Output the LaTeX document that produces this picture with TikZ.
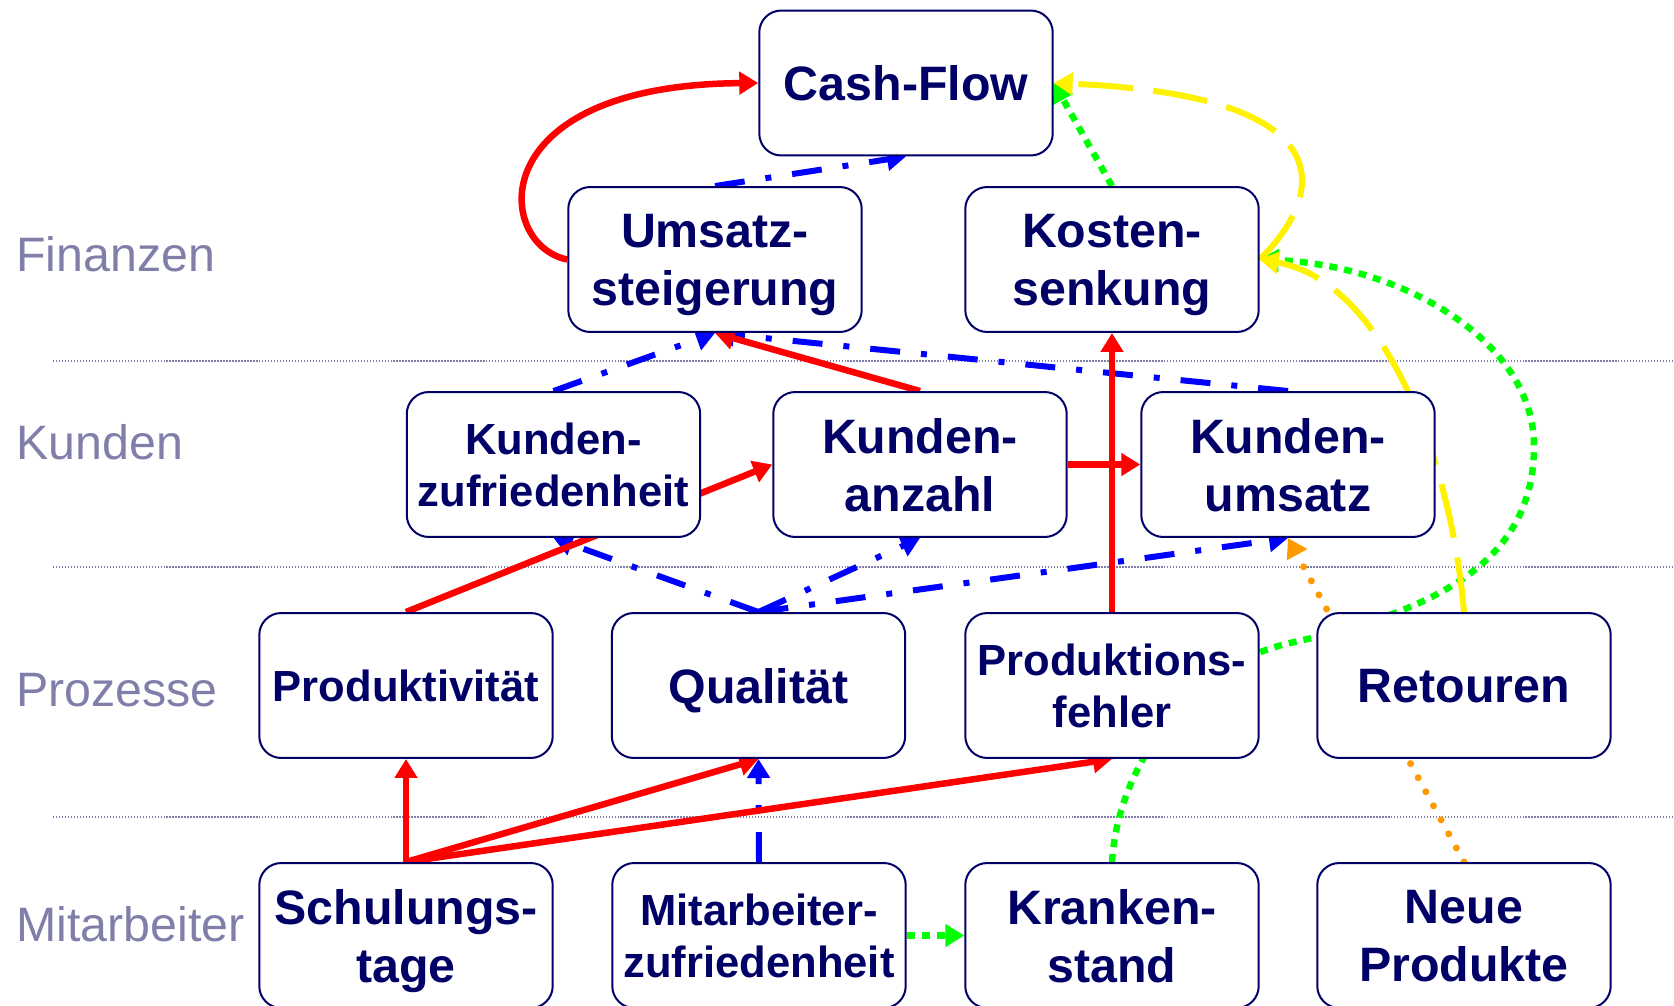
\documentclass[tikz,border=0pt]{standalone}
\usepackage{fontspec}
\setmainfont{Liberation Sans}
\usepackage{xcolor}
\usetikzlibrary{arrows.meta,backgrounds}

\definecolor{navy}{RGB}{0,0,102}
\definecolor{lavgrey}{RGB}{127,127,170}
\definecolor{orangedot}{RGB}{255,153,0}

\begin{document}
\begin{tikzpicture}[x=0.02cm,y=-0.02cm,
	box/.style={draw=navy,line width=0.04cm,fill=white,rounded corners=0.44cm,minimum width=5.87cm,minimum height=2.9cm,inner sep=0pt,align=center,text depth=0pt,text=navy,font=\fontsize{27.5pt}{33pt}\selectfont\bfseries},
	smallbox/.style={box,font=\fontsize{24.8pt}{29.5pt}\selectfont\bfseries},
	rowlabel/.style={anchor=west,inner sep=0pt,text=lavgrey,font=\fontsize{27.5pt}{33pt}\selectfont},
	sepline/.style={lavgrey,line width=0.8pt,dash pattern=on 0.8pt off 0.9pt},
	tipped/.style={-{Triangle[length=0.38cm,width=0.44cm]}},
	redarrow/.style={tipped,red,line width=0.13cm},
	bluearrow/.style={tipped,blue,line width=0.12cm,dash pattern=on 0.6cm off 0.42cm on 0.12cm off 0.42cm},
	greenarrow/.style={tipped,green,line width=0.13cm,dash pattern=on 0.16cm off 0.14cm},
	yellowarrow/.style={tipped,yellow,line width=0.12cm,dash pattern=on 1.1cm off 0.4cm},
	orangearrow/.style={tipped,orangedot,line width=0.14cm,line cap=round,dash pattern=on 0pt off 0.32cm}]
	\useasboundingbox (0,0) rectangle (1674,1005);

	\node[rowlabel] (finanzen) at (16,254) {Finanzen};
	\node[rowlabel] (kunden) at (16,442) {Kunden};
	\node[rowlabel] (prozesse) at (16,690) {Prozesse};
	\node[rowlabel] (mitarbeiter) at (16,924) {Mitarbeiter};

	\node[box] (cash) at (906,83) {Cash-Flow};
	\node[box] (umsatz) at (715,259.5) {Umsatz-\\steigerung};
	\node[box] (kosten) at (1112,259.5) {Kosten-\\senkung};

	\node[smallbox] (kzuf) at (553.5,464.5) {Kunden-\\zufriedenheit};
	\node[box] (kanz) at (920,464.5) {Kunden-\\anzahl};
	\node[box] (kums) at (1288,464.5) {Kunden-\\umsatz};

	\node[smallbox] (prod) at (406,685.5) {Produktivität};
	\node[box] (qual) at (758.5,685.5) {Qualität};
	\node[smallbox] (pfehl) at (1112,685.5) {Produktions-\\fehler};
	\node[box] (ret) at (1464,685.5) {Retouren};

	\node[box] (schul) at (406,935.5) {Schulungs-\\tage};
	\node[smallbox] (mazuf) at (759,935.5) {Mitarbeiter-\\zufriedenheit};
	\node[box] (krank) at (1112,935.5) {Kranken-\\stand};
	\node[box] (neue) at (1464,935.5) {Neue\\Produkte};

	\begin{scope}[on background layer]
		\fill[white] (0,0) rectangle (1674,1005);
		\draw[sepline] (53,361) -- (1674,361);
		\draw[sepline] (53,567) -- (1674,567);
		\draw[sepline] (53,817) -- (1674,817);

		\draw[greenarrow] (kosten.north) -- (cash.east);
		\draw[greenarrow] (mazuf.east) -- (krank.west);
		\draw[greenarrow] (krank.north) .. controls (1118,760) and (1197,663) .. (1290,643) .. controls (1440,610) and (1534,560) .. (1534,446) .. controls (1534,340) and (1400,265) .. (kosten.east);

		\draw[bluearrow] (umsatz.north) -- (cash.south);
		\draw[bluearrow] (kzuf.north) -- (umsatz.south);
		\draw[bluearrow] (kums.north) -- (umsatz.south);
		\draw[bluearrow] (qual.north) -- (kzuf.south);
		\draw[bluearrow] (qual.north) -- (kanz.south);
		\draw[bluearrow] (qual.north) -- (kums.south);
		\draw[bluearrow] (mazuf.north) -- (qual.south);

		\draw[orangearrow] (neue.north) -- (kums.south);

		\draw[yellowarrow] (ret.north) .. controls (1450,450) and (1380,280) .. (kosten.east);
		\draw[yellowarrow] (kosten.east) .. controls (1330,190) and (1340,95) .. (cash.east);

		\draw[redarrow] (umsatz.west) .. controls (495,245) and (480,85) .. (cash.west);
		\draw[redarrow] (kanz.north) -- (umsatz.south);
		\draw[redarrow] (prod.north) -- (kanz.west);
		\draw[redarrow] (kanz.east) -- (kums.west);
		\draw[redarrow] (pfehl.north) -- (kosten.south);
		\draw[redarrow] (schul.north) -- (prod.south);
		\draw[redarrow] (schul.north) -- (qual.south);
		\draw[redarrow] (schul.north) -- (pfehl.south);
	\end{scope}
\end{tikzpicture}
\end{document}
